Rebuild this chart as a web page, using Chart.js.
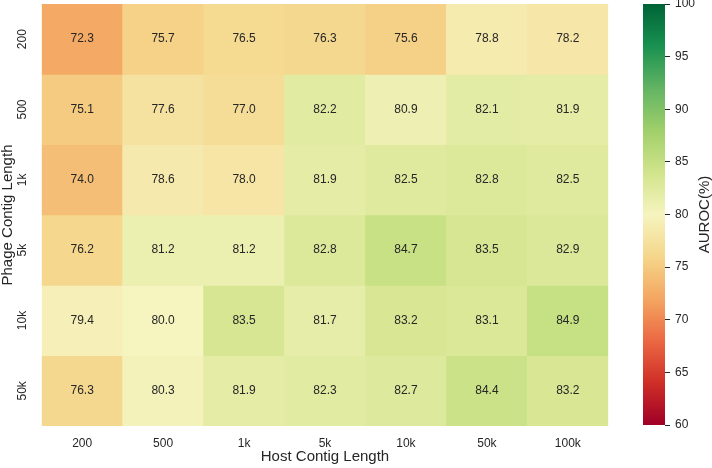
<!DOCTYPE html>
<html>
<head>
<meta charset="utf-8">
<script src="https://cdn.jsdelivr.net/npm/chart.js@4/dist/chart.umd.min.js"></script>
<style>
  html, body { margin: 0; padding: 0; background: #ffffff; }
  #wrap { position: relative; width: 712px; height: 468px; }
  #main { position: absolute; left: 0; top: 0; }
  #cbar { position: absolute; left: 600px; top: 0; }
</style>
</head>
<body>
<div id="wrap">
  <canvas id="main" width="712" height="468"></canvas>
  <canvas id="cbar" width="112" height="468"></canvas>
</div>
<script>
// ---- data ----
const hostLengths = ['200', '500', '1k', '5k', '10k', '50k', '100k'];
const phageLengths = ['200', '500', '1k', '5k', '10k', '50k'];
const aurocPhage200 = [72.3, 75.7, 76.5, 76.3, 75.6, 78.8, 78.2];
const aurocPhage500 = [75.1, 77.6, 77.0, 82.2, 80.9, 82.1, 81.9];
const aurocPhage1k  = [74.0, 78.6, 78.0, 81.9, 82.5, 82.8, 82.5];
const aurocPhage5k  = [76.2, 81.2, 81.2, 82.8, 84.7, 83.5, 82.9];
const aurocPhage10k = [79.4, 80.0, 83.5, 81.7, 83.2, 83.1, 84.9];
const aurocPhage50k = [76.3, 80.3, 81.9, 82.3, 82.7, 84.4, 83.2];
const colorbarTicks = [60, 65, 70, 75, 80, 85, 90, 95, 100];
const vmin = 60, vmax = 100;

const rows = [aurocPhage200, aurocPhage500, aurocPhage1k, aurocPhage5k, aurocPhage10k, aurocPhage50k];

// ---- RdYlGn colormap (slightly toned to match the reference rendering) ----
const RdYlGn = [[165,0,38],[215,48,39],[244,109,67],[253,174,97],[254,224,139],[255,255,191],
                [217,239,139],[166,217,106],[102,189,99],[26,152,80],[0,104,55]];
const tone = [0.965, 0.955, 1.0];
function rgbStr(c) {
  return `rgb(${Math.round(c[0] * tone[0])},${Math.round(c[1] * tone[1])},${Math.round(c[2] * tone[2])})`;
}
function cmap(v) {
  let t = (v - vmin) / (vmax - vmin);
  t = Math.max(0, Math.min(1, t));
  const p = t * (RdYlGn.length - 1);
  const i = Math.min(Math.floor(p), RdYlGn.length - 2);
  const f = p - i;
  const a = RdYlGn[i], b = RdYlGn[i + 1];
  return rgbStr(a.map((x, k) => x + (b[k] - x) * f));
}

const FONT = "'Liberation Sans', Arial, 'DejaVu Sans', sans-serif";
const TXT = '#262626';

const datasets = rows.map((vals, r) => ({
  label: phageLengths[r],
  data: hostLengths.map(() => [r, r + 1]),
  backgroundColor: vals.map(cmap),
  borderWidth: 0,
  categoryPercentage: 1.0,
  barPercentage: 1.0,
  grouped: false
}));

const annotPlugin = {
  id: 'annot',
  afterDatasetsDraw(chart) {
    const ctx = chart.ctx;
    const xs = chart.scales.x, ys = chart.scales.y;
    ctx.save();
    ctx.font = `12px ${FONT}`;
    ctx.fillStyle = TXT;
    ctx.textAlign = 'center';
    ctx.textBaseline = 'middle';
    rows.forEach((vals, r) => {
      vals.forEach((v, j) => {
        ctx.fillText(v.toFixed(1), xs.getPixelForValue(j), ys.getPixelForValue(r + 0.5));
      });
    });
    ctx.restore();
  }
};

new Chart(document.getElementById('main'), {
  type: 'bar',
  data: { labels: hostLengths, datasets },
  options: {
    responsive: false,
    animation: false,
    devicePixelRatio: 1,
    layout: { padding: { left: 0, top: 4, right: 103.7, bottom: 0 } },
    plugins: { legend: { display: false }, tooltip: { enabled: false } },
    scales: {
      x: {
        type: 'category',
        offset: true,
        grid: { display: false, drawTicks: false },
        border: { display: false },
        ticks: { color: TXT, font: { family: FONT, size: 12 }, padding: 10, maxRotation: 0, autoSkip: false },
        title: { display: true, text: 'Host Contig Length', color: TXT,
                 font: { family: FONT, size: 15 }, padding: { top: 0, bottom: 2 } },
        afterFit(scale) { scale.height = 42; scale.paddingLeft = 0; scale.paddingRight = 0; }
      },
      y: {
        type: 'linear',
        min: 0, max: 6,
        reverse: true,
        grid: { display: false, drawTicks: false },
        border: { display: false },
        afterBuildTicks(scale) {
          scale.ticks = phageLengths.map((_, i) => ({ value: i + 0.5 }));
        },
        ticks: {
          color: TXT, font: { family: FONT, size: 12 }, padding: 9,
          minRotation: 90, maxRotation: 90, crossAlign: 'center', autoSkip: false,
          callback: (v) => phageLengths[Math.floor(v)]
        },
        title: { display: true, text: 'Phage Contig Length', color: TXT,
                 font: { family: FONT, size: 15, lineHeight: 1 }, padding: { top: 0, bottom: 0 } },
        afterFit(scale) { scale.width = 41.7; scale.paddingTop = 0; scale.paddingBottom = 0; }
      }
    }
  },
  plugins: [annotPlugin]
});

// ---- colorbar ----
const cbarTitlePlugin = {
  id: 'cbarTitle',
  afterDraw(chart) {
    const ctx = chart.ctx;
    const a = chart.chartArea;
    ctx.save();
    ctx.translate(105, (a.top + a.bottom) / 2);
    ctx.rotate(-Math.PI / 2);
    ctx.font = `15px ${FONT}`;
    ctx.fillStyle = TXT;
    ctx.textAlign = 'center';
    ctx.textBaseline = 'middle';
    ctx.fillText('AUROC(%)', 0, 0);
    ctx.restore();
  }
};

new Chart(document.getElementById('cbar'), {
  type: 'bar',
  data: {
    labels: [''],
    datasets: [{
      data: [[vmin, vmax]],
      borderWidth: 0,
      categoryPercentage: 1.0,
      barPercentage: 1.0,
      backgroundColor(context) {
        const chart = context.chart;
        const a = chart.chartArea;
        if (!a) return cmap(80);
        const ys = chart.scales.y;
        const g = chart.ctx.createLinearGradient(0, ys.getPixelForValue(vmin), 0, ys.getPixelForValue(vmax));
        RdYlGn.forEach((c, i) => g.addColorStop(i / (RdYlGn.length - 1), rgbStr(c)));
        return g;
      }
    }]
  },
  options: {
    responsive: false,
    animation: false,
    devicePixelRatio: 1,
    layout: { padding: { left: 43, top: 4, right: 0, bottom: 43 } },
    plugins: { legend: { display: false }, tooltip: { enabled: false } },
    scales: {
      x: { display: false, offset: true },
      y: {
        position: 'right',
        min: vmin, max: vmax,
        afterBuildTicks(scale) { scale.ticks = colorbarTicks.map(v => ({ value: v })); },
        grid: { display: true, drawOnChartArea: false, drawTicks: true, tickLength: 5, color: TXT, lineWidth: 1 },
        border: { display: false },
        ticks: { color: TXT, font: { family: FONT, size: 12 }, padding: 5 },
        afterFit(scale) { scale.width = 47; scale.paddingTop = 0; scale.paddingBottom = 0; }
      }
    }
  },
  plugins: [cbarTitlePlugin]
});
</script>
</body>
</html>
